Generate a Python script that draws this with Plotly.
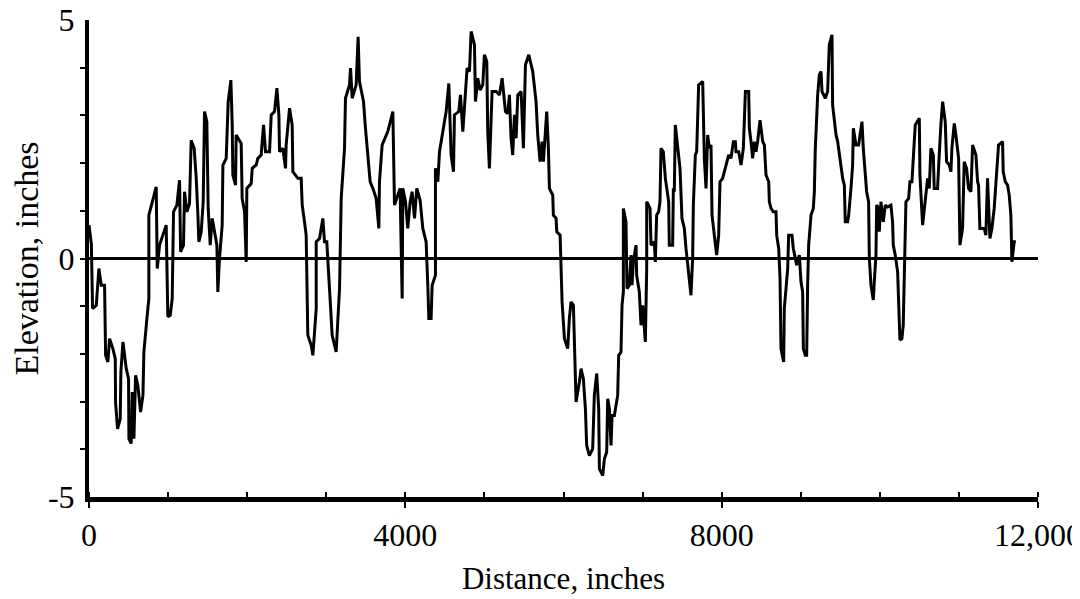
import plotly.graph_objects as go

# profile (inches)
distance = [
    0, 30, 45, 92, 125, 155, 197, 210, 239, 260, 302, 332, 336, 361, 395, 403, 429, 471, 500, 505,
    534, 547, 568, 589, 618, 652, 682, 694, 732, 757, 757, 850, 863, 892, 934, 976, 997, 1027, 1052, 1069,
    1111, 1145, 1158, 1195, 1208, 1238, 1271, 1292, 1330, 1356, 1377, 1389, 1419, 1444, 1461, 1490, 1507, 1533, 1558, 1592,
    1617, 1629, 1650, 1684, 1693, 1735, 1760, 1794, 1811, 1819, 1853, 1861, 1924, 1937, 1967, 1988, 1996, 2051, 2064, 2114,
    2135, 2177, 2207, 2232, 2283, 2304, 2346, 2376, 2401, 2409, 2451, 2485, 2493, 2536, 2569, 2578, 2641, 2683, 2696, 2725,
    2746, 2767, 2810, 2831, 2873, 2873, 2915, 2957, 2978, 3007, 3033, 3075, 3125, 3168, 3189, 3231, 3243, 3294, 3307, 3328,
    3378, 3403, 3420, 3471, 3496, 3526, 3555, 3589, 3631, 3665, 3673, 3707, 3778, 3842, 3850, 3863, 3905, 3934, 3947, 3960,
    3968, 4002, 4031, 4061, 4086, 4116, 4145, 4187, 4221, 4263, 4284, 4297, 4326, 4339, 4381, 4381, 4411, 4432, 4453, 4482,
    4516, 4550, 4566, 4579, 4609, 4621, 4676, 4697, 4727, 4748, 4781, 4811, 4832, 4874, 4887, 4916, 4946, 4979, 5000, 5030,
    5042, 5063, 5097, 5148, 5190, 5224, 5266, 5295, 5316, 5337, 5358, 5380, 5401, 5422, 5464, 5493, 5519, 5561, 5611, 5653,
    5674, 5704, 5729, 5746, 5788, 5809, 5822, 5864, 5872, 5906, 5915, 5957, 5969, 5982, 6012, 6053, 6074, 6095, 6125, 6138,
    6159, 6201, 6222, 6251, 6277, 6293, 6327, 6369, 6390, 6420, 6445, 6454, 6496, 6517, 6546, 6559, 6580, 6601, 6614, 6643,
    6685, 6698, 6727, 6740, 6757, 6757, 6790, 6803, 6833, 6854, 6866, 6883, 6917, 6925, 6959, 6980, 7001, 7035, 7052, 7052,
    7094, 7107, 7149, 7161, 7178, 7203, 7220, 7233, 7262, 7288, 7305, 7330, 7338, 7380, 7389, 7401, 7414, 7444, 7473, 7498,
    7528, 7549, 7583, 7612, 7633, 7642, 7667, 7684, 7709, 7760, 7781, 7802, 7823, 7844, 7865, 7878, 7907, 7937, 7962, 7979,
    8012, 8034, 8047, 8064, 8089, 8118, 8148, 8173, 8182, 8215, 8245, 8274, 8300, 8342, 8350, 8371, 8392, 8413, 8434, 8455,
    8485, 8519, 8540, 8561, 8595, 8603, 8624, 8653, 8687, 8696, 8721, 8738, 8750, 8784, 8792, 8835, 8847, 8889, 8906, 8932,
    8948, 8982, 9003, 9024, 9033, 9058, 9075, 9087, 9100, 9130, 9159, 9172, 9184, 9214, 9235, 9256, 9269, 9311, 9340, 9361,
    9395, 9403, 9424, 9446, 9467, 9488, 9509, 9530, 9551, 9563, 9593, 9606, 9635, 9656, 9665, 9698, 9732, 9774, 9791, 9816,
    9833, 9858, 9867, 9888, 9917, 9930, 9951, 9960, 9985, 9993, 10014, 10044, 10069, 10098, 10140, 10161, 10170, 10195, 10225, 10254,
    10279, 10296, 10309, 10330, 10364, 10381, 10406, 10423, 10448, 10499, 10507, 10541, 10574, 10604, 10625, 10646, 10676, 10688, 10730, 10743,
    10751, 10772, 10794, 10827, 10844, 10878, 10899, 10911, 10941, 10962, 10996, 11013, 11046, 11067, 11097, 11122, 11152, 11173, 11215, 11236,
    11248, 11265, 11320, 11341, 11362, 11392, 11417, 11446, 11468, 11501, 11552, 11560, 11586, 11615, 11636, 11657, 11670, 11687, 11699, 11720,
]
elevation = [
    0.70, 0.30, -1.05, -0.98, -0.21, -0.56, -0.56, -2.03, -2.17, -1.68, -1.89, -2.10, -3.01, -3.57, -3.36, -2.38, -1.75, -2.31, -2.52, -3.78,
    -3.88, -2.80, -3.78, -2.45, -2.66, -3.22, -2.87, -1.96, -1.26, -0.84, 0.91, 1.50, -0.21, 0.28, 0.49, 0.70, -1.22, -1.19, -0.84, 0.98,
    1.12, 1.64, 0.14, 0.28, 1.40, 0.98, 1.15, 2.48, 2.31, 1.68, 0.91, 0.35, 0.56, 1.19, 3.08, 2.87, 1.05, 0.28, 0.84, 0.56,
    0.28, -0.70, 0.00, 0.70, 1.96, 2.10, 3.29, 3.74, 2.80, 1.75, 1.54, 2.59, 2.41, 1.26, 0.98, -0.07, 1.47, 1.57, 1.89, 1.96,
    2.10, 2.17, 2.80, 2.24, 2.24, 3.01, 3.08, 3.57, 3.01, 2.24, 2.31, 1.89, 2.38, 3.15, 2.80, 1.82, 1.68, 1.68, 1.12, 0.77,
    0.49, -1.61, -1.82, -2.03, -1.05, 0.35, 0.42, 0.84, 0.35, 0.35, -0.42, -1.61, -1.96, -0.63, 1.26, 2.31, 3.36, 3.64, 3.99, 3.36,
    3.64, 4.65, 3.71, 3.29, 2.73, 2.10, 1.61, 1.47, 1.26, 0.63, 1.61, 2.38, 2.66, 3.08, 2.10, 1.12, 1.33, 1.47, 0.28, -0.84,
    1.47, 1.19, 0.63, 1.19, 1.40, 0.84, 1.47, 1.22, 0.63, 0.35, -0.56, -1.26, -1.26, -0.56, -0.35, 1.89, 1.61, 2.24, 2.45, 2.73,
    3.08, 3.67, 3.01, 2.17, 1.82, 3.01, 3.08, 3.43, 2.66, 3.15, 3.99, 3.92, 4.76, 4.48, 3.29, 3.78, 3.53, 3.64, 4.27, 4.13,
    2.66, 1.89, 3.50, 3.50, 3.43, 3.78, 3.08, 3.04, 3.43, 2.52, 2.17, 3.01, 2.52, 3.43, 3.50, 2.31, 4.06, 4.27, 3.92, 3.29,
    2.59, 2.03, 2.45, 2.03, 3.08, 2.31, 1.47, 1.33, 0.91, 0.84, 0.56, 0.49, -0.07, -0.91, -1.68, -1.89, -1.26, -0.91, -0.98, -1.89,
    -3.01, -2.59, -2.31, -2.52, -3.15, -3.92, -4.13, -3.99, -2.87, -2.41, -3.15, -4.41, -4.55, -4.20, -4.06, -2.94, -3.15, -3.92, -3.29, -3.29,
    -2.87, -2.03, -1.96, -0.98, -0.70, 1.05, 0.77, -0.63, -0.56, 0.07, -0.56, -0.07, 0.28, -0.35, -0.70, -1.40, -0.98, -1.75, -0.21, 1.19,
    1.05, 0.28, 0.35, -0.07, 0.91, 0.98, 1.19, 2.31, 2.24, 1.68, 1.47, 1.19, 0.28, 0.28, 1.47, 1.40, 2.80, 2.31, 1.89, 0.84,
    0.63, 0.21, -0.35, -0.77, 0.00, 1.12, 2.17, 2.24, 3.64, 3.71, 2.10, 1.47, 2.59, 2.31, 2.38, 0.91, 0.49, 0.07, 0.49, 1.61,
    1.68, 1.82, 1.89, 2.03, 2.17, 2.10, 2.45, 2.45, 2.24, 2.24, 1.96, 2.31, 3.50, 3.50, 2.73, 2.45, 2.10, 2.45, 2.24, 2.45,
    2.90, 2.45, 2.38, 1.75, 1.61, 1.19, 1.05, 0.98, 0.98, 0.49, 0.21, -0.42, -1.89, -2.17, -1.05, -0.21, 0.49, 0.49, 0.21, 0.00,
    -0.14, 0.07, -0.49, -0.70, -1.89, -2.03, -2.03, -0.56, 0.28, 0.91, 1.05, 1.40, 2.31, 3.43, 3.85, 3.92, 3.50, 3.36, 3.50, 4.48,
    4.69, 3.22, 2.94, 2.59, 2.45, 2.17, 1.89, 1.68, 1.54, 0.77, 0.77, 0.91, 1.47, 1.96, 2.73, 2.38, 2.38, 2.87, 2.31, 1.75,
    1.40, 1.19, 0.00, -0.56, -0.87, -0.49, 0.07, 1.12, 1.05, 0.56, 1.19, 0.77, 1.12, 1.08, 1.12, 0.77, 0.28, 0.07, -0.28, -1.71,
    -1.68, -1.40, -0.07, 1.19, 1.26, 1.61, 1.61, 2.03, 2.80, 2.94, 1.75, 0.70, 1.19, 1.68, 1.47, 2.31, 2.17, 1.47, 1.47, 2.10,
    2.17, 2.80, 3.29, 2.87, 2.03, 1.96, 1.82, 2.31, 2.83, 2.59, 2.10, 0.28, 0.63, 2.03, 1.89, 1.47, 1.40, 2.38, 2.17, 1.61,
    1.54, 0.63, 0.63, 0.49, 1.68, 0.42, 0.63, 1.05, 1.68, 2.38, 2.45, 1.82, 1.61, 1.54, 1.33, 0.91, -0.07, 0.21, 0.35, 0.35,
]

x_major = [0, 4000, 8000, 12000]
x_labels = ["0", "4000", "8000", "12,000"]
y_major = [-5, 0, 5]
y_labels = ["-5", "0", "5"]

serif = "Liberation Serif"

fig = go.Figure()
fig.add_trace(go.Scatter(
    x=distance, y=elevation, mode="lines",
    line=dict(color="black", width=3),
    hoverinfo="skip", showlegend=False
))

# the page body adds an 8px offset, so margins are shifted to compensate
fig.update_layout(
    width=1080, height=599,
    margin=dict(l=81, r=50, t=12, b=110, autoexpand=False),
    paper_bgcolor="white", plot_bgcolor="white",
    font=dict(family=serif, size=32, color="black"),
    xaxis=dict(
        range=[0, 12000], showgrid=False, zeroline=False, automargin=False,
        showline=True, linecolor="black", linewidth=5,
        tickvals=x_major, ticktext=x_labels, ticklabeloverflow="allow",
        ticks="outside", ticklen=6, tickwidth=2, tickcolor="black",
        minor=dict(ticks="inside", dtick=1000, tick0=0, ticklen=5, tickwidth=2, tickcolor="black"),
        ticklabelstandoff=0,
        title=dict(text="Distance, inches", font=dict(size=31), standoff=16),
    ),
    yaxis=dict(
        range=[-5, 5], showgrid=False, automargin=False,
        zeroline=True, zerolinecolor="black", zerolinewidth=2.5,
        showline=True, linecolor="black", linewidth=4,
        tickvals=y_major, ticktext=y_labels, ticklabeloverflow="allow",
        ticks="inside", ticklen=6, tickwidth=2, tickcolor="black",
        minor=dict(ticks="outside", dtick=1, tick0=0, ticklen=5, tickwidth=2, tickcolor="black"),
        ticklabelstandoff=4,
        title=dict(text="Elevation, inches", font=dict(size=34), standoff=10),
    ),
    # second pair of axes only to make the major ticks cross the axis lines
    xaxis2=dict(
        overlaying="x", anchor="y", side="bottom", range=[0, 12000], automargin=False,
        showgrid=False, zeroline=False, showline=False, showticklabels=False,
        tickvals=x_major, ticks="inside", ticklen=6, tickwidth=2, tickcolor="black",
    ),
    yaxis2=dict(
        overlaying="y", anchor="x", side="left", range=[-5, 5], automargin=False,
        showgrid=False, zeroline=False, showline=False, showticklabels=False,
        tickvals=y_major, ticks="outside", ticklen=6, tickwidth=2, tickcolor="black",
    ),
)

fig.write_html("out.html")
